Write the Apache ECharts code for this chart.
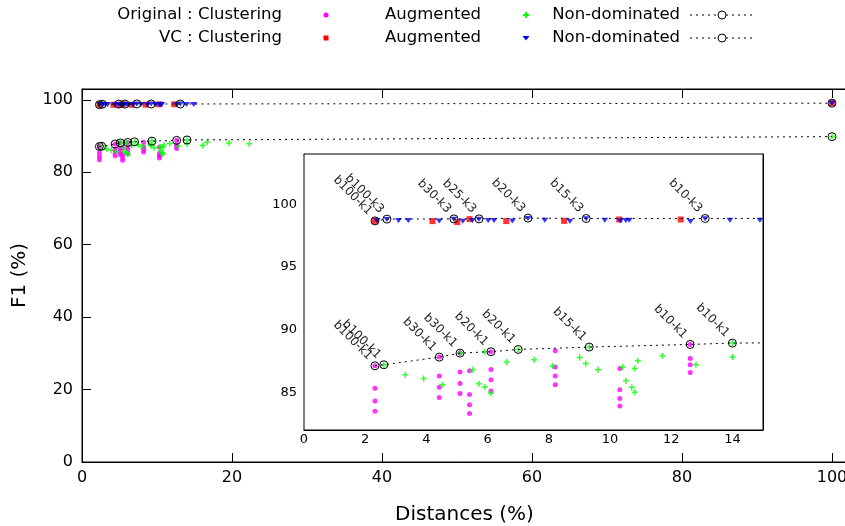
<!DOCTYPE html>
<html>
<head>
<meta charset="utf-8">
<title>F1 vs Distances</title>
<script src="https://cdn.jsdelivr.net/npm/echarts@6/dist/echarts.min.js"></script>
<style>
  html, body { margin: 0; padding: 0; background: #fff; }
  #dom { width: 845px; height: 526px; }
</style>
</head>
<body>
<div id="dom"></div>
<script>
// values: [distance %, F1 %]
const origClustering = [
  [2.32, 83.49], [2.32, 84.32], [2.32, 85.32], [2.32, 87.12],
  [4.42, 84.6], [4.42, 85.4], [4.42, 86.3], [4.42, 87.81],
  [5.1, 84.9], [5.1, 85.71], [5.1, 86.62], [5.1, 88.13],
  [5.41, 83.31], [5.41, 84.02], [5.41, 84.82], [5.41, 86.72],
  [6.11, 85.11], [6.11, 86.01], [6.11, 86.83], [6.11, 88.24],
  [8.21, 85.61], [8.21, 86.3], [8.21, 87.02], [8.21, 88.31],
  [10.32, 83.92], [10.32, 84.52], [10.32, 85.21], [10.32, 86.91],
  [12.62, 86.59], [12.62, 87.2], [12.62, 87.7], [12.62, 88.82]
];
const origAugmented = [
  [2.61, 87.2], [3.31, 86.41], [3.91, 86.11], [4.53, 85.61], [5.1, 88.13],
  [5.51, 86.8], [5.72, 85.69], [5.91, 85.43], [5.91, 88.24], [6.11, 84.92],
  [6.62, 87.42], [7.0, 88.42], [7.52, 87.6], [8.12, 87.1], [9.01, 87.78],
  [9.21, 87.31], [9.32, 88.61], [9.61, 86.8], [10.42, 87.02], [10.52, 85.93],
  [10.71, 85.4], [10.81, 86.91], [10.81, 85.0], [10.91, 87.52], [11.71, 87.92],
  [12.81, 87.2], [14.0, 88.93], [14.0, 87.81], [16.1, 87.4], [16.7, 88.3],
  [19.6, 88.1], [22.3, 87.9], [100, 89.85]
];
const origNonDominated = [
  [2.32, 87.12], [2.61, 87.2], [4.42, 87.81], [5.1, 88.13], [6.11, 88.24],
  [7.0, 88.42], [9.32, 88.61], [12.62, 88.82], [14.0, 88.93], [100, 89.85]
];
const origLabels = ["b100-k1", "b100-k1", "b30-k1", "b30-k1", "b20-k1",
  "b20-k1", "b15-k1", "b10-k1", "b10-k1", ""];

const vcClustering = [
  [2.32, 98.67], [4.2, 98.65], [5.01, 98.57], [5.41, 98.81], [6.61, 98.65],
  [8.5, 98.67], [10.3, 98.78], [12.31, 98.78], [100, 99.12]
];
const vcAugmented = [
  [2.39, 98.7], [2.71, 98.78], [3.09, 98.7], [3.41, 98.7], [4.42, 98.66],
  [4.9, 98.8], [5.19, 98.64], [5.5, 98.7], [5.72, 98.8], [6.02, 98.7],
  [6.21, 98.7], [6.81, 98.66], [7.32, 98.86], [7.87, 98.72], [8.69, 98.64],
  [9.22, 98.83], [9.83, 98.72], [10.34, 98.66], [10.52, 98.7], [10.63, 98.72],
  [12.63, 98.62], [13.11, 98.83], [13.92, 98.72], [14.9, 98.72], [100, 99.05]
];
const vcNonDominated = [
  [2.32, 98.67], [2.71, 98.81], [4.9, 98.83], [5.72, 98.83], [7.32, 98.89],
  [9.22, 98.86], [13.11, 98.86], [100, 99.09]
];
const vcLabels = ["b100-k1", "b100-k3", "b30-k3", "b25-k3", "b20-k3",
  "b15-k3", "b10-k3", ""];

const legendRows = ["Original : Clustering", "VC : Clustering"];

const FONT = "DejaVu Sans";
const plusPath = "path://M3,0H5V3H8V5H5V8H3V5H0V3H3Z";

function tickAxis(extra) {
  return Object.assign({
    type: "value",
    axisLine: { show: true, onZero: false, lineStyle: { color: "#000", width: 1 } },
    axisTick: { show: true, inside: true, length: 9, lineStyle: { color: "#000" } },
    splitLine: { show: false },
    axisLabel: { color: "#000", fontFamily: FONT }
  }, extra);
}

function pointSeries(ax, withLabels) {
  const idx = ax;
  const list = [
    {
      type: "scatter", data: origClustering, symbol: "circle", symbolSize: 5,
      itemStyle: { color: "#ff00ff" }
    },
    {
      type: "scatter", data: origAugmented, symbol: plusPath, symbolSize: 6,
      itemStyle: { color: "#00ff00" }
    },
    {
      type: "line", data: origNonDominated, labels: origLabels
    },
    {
      type: "scatter", data: vcClustering, symbol: "rect", symbolSize: 6,
      itemStyle: { color: "#ff0000" }
    },
    {
      type: "scatter", data: vcAugmented, symbol: "triangle", symbolSize: [7, 5],
      symbolRotate: 180, itemStyle: { color: "#0000ff" }
    },
    {
      type: "line", data: vcNonDominated, labels: vcLabels
    }
  ];
  return list.map(s => {
    const out = Object.assign({ xAxisIndex: idx, yAxisIndex: idx, animation: false, silent: true }, s);
    delete out.labels;
    if (s.type === "line") {
      const labels = s.labels;
      Object.assign(out, {
        symbol: "circle",
        symbolSize: 8,
        showAllSymbol: true,
        z: 5,
        itemStyle: { color: "rgba(0,0,0,0)", borderColor: "#000", borderWidth: 1 },
        lineStyle: { color: "#000", width: 1, type: [2, 4] },
        label: withLabels ? {
          show: true,
          formatter: p => labels[p.dataIndex],
          position: "inside",
          offset: [-9, -2],
          rotate: -45,
          align: "right",
          verticalAlign: "middle",
          fontSize: 12,
          fontFamily: FONT,
          color: "#222"
        } : { show: false }
      });
    }
    return out;
  });
}

// legend drawn by hand, gnuplot style: text then sample
const graphic = [];
legendRows.forEach((title, i) => {
  const y = i === 0 ? 15 : 38;
  const txt = (t, x) => ({
    type: "text", x: x, y: y,
    style: { text: t, align: "right", verticalAlign: "middle", font: "16.5px " + FONT, fill: "#000" }
  });
  graphic.push(txt(title, 282), txt("Augmented", 481), txt("Non-dominated", 680));
  if (i === 0) {
    graphic.push({ type: "circle", shape: { cx: 326, cy: y, r: 2.5 }, style: { fill: "#ff00ff" } });
    graphic.push({ type: "rect", shape: { x: 525, y: y - 3, width: 2, height: 6 }, style: { fill: "#00ff00" } });
    graphic.push({ type: "rect", shape: { x: 523, y: y - 1, width: 6, height: 2 }, style: { fill: "#00ff00" } });
  } else {
    graphic.push({ type: "rect", shape: { x: 323.5, y: y - 2.5, width: 5, height: 5 }, style: { fill: "#ff0000" } });
    graphic.push({ type: "polygon", shape: { points: [[522.5, y - 2], [529.5, y - 2], [526, y + 2.5]] }, style: { fill: "#0000ff" } });
  }
  graphic.push({ type: "line", shape: { x1: 690, y1: y, x2: 752, y2: y }, style: { stroke: "#000", lineWidth: 1, lineDash: [2, 4] } });
  graphic.push({ type: "circle", shape: { cx: 722, cy: y, r: 4 }, style: { fill: "#fff", stroke: "#000", lineWidth: 1 } });
});

const option = {
  backgroundColor: "#fff",
  animation: false,
  textStyle: { fontFamily: FONT },
  grid: [
    { left: 82, top: 89, width: 765, bottom: 64, show: true, borderColor: "#000", borderWidth: 1, backgroundColor: "#fff", containLabel: false, outerBoundsMode: "none" },
    { left: 304, top: 154, width: 459, height: 276, show: true, borderColor: "#000", borderWidth: 1, backgroundColor: "#fff", containLabel: false, outerBoundsMode: "none", z: 1 }
  ],
  xAxis: [
    tickAxis({
      gridIndex: 0, min: 0, max: 102, interval: 20, position: "bottom",
      axisLabel: { color: "#000", fontFamily: FONT, fontSize: 16, margin: 8, showMaxLabel: false },
      name: "Distances (%)", nameLocation: "middle", nameGap: 43,
      nameTextStyle: { fontSize: 20, color: "#000", fontFamily: FONT }
    }),
    tickAxis({
      gridIndex: 1, min: 0, max: 15, interval: 2, position: "bottom",
      axisLabel: { color: "#000", fontFamily: FONT, fontSize: 13, margin: 3, showMaxLabel: false }
    }),
    tickAxis({
      gridIndex: 0, min: 0, max: 102, interval: 20, position: "top",
      axisLabel: { show: false }
    }),
    tickAxis({
      gridIndex: 1, min: 0, max: 15, interval: 2, position: "top",
      axisLabel: { show: false }
    })
  ],
  yAxis: [
    tickAxis({
      gridIndex: 0, min: 0, max: 103, interval: 20, position: "left",
      axisLabel: { color: "#000", fontFamily: FONT, fontSize: 16, margin: 9, showMaxLabel: false },
      name: "F1 (%)", nameLocation: "middle", nameGap: 52,
      nameTextStyle: { fontSize: 20, color: "#000", fontFamily: FONT }
    }),
    tickAxis({
      gridIndex: 1, min: 82, max: 104, splitNumber: 5, position: "left",
      axisLabel: { color: "#000", fontFamily: FONT, fontSize: 13, margin: 7, showMinLabel: false, showMaxLabel: false }
    }),
    tickAxis({
      gridIndex: 1, min: 82, max: 104, splitNumber: 5, position: "right",
      axisLabel: { show: false }
    })
  ],
  graphic: graphic,
  series: pointSeries(0, false).concat(pointSeries(1, true))
};

const chart = echarts.init(document.getElementById("dom"));
chart.setOption(option);
</script>
</body>
</html>
